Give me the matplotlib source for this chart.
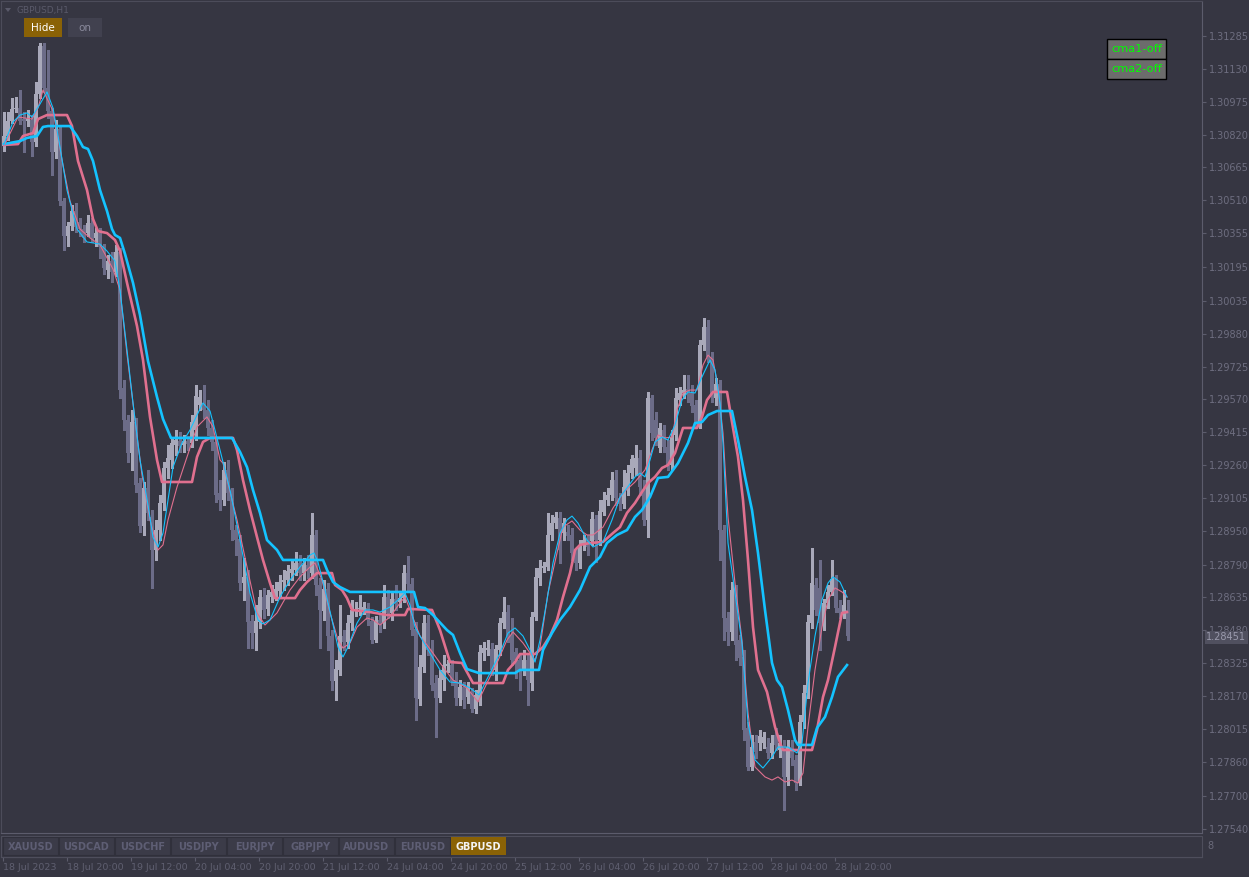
import matplotlib
matplotlib.use('Agg')
import matplotlib.pyplot as plt
from matplotlib.patches import Rectangle, Polygon
from matplotlib.transforms import blended_transform_factory
import numpy as np

# ---------------- data ----------------
symbol_title = "GBPUSD,H1"
opens = [1.30766,1.30813,1.30884,1.30941,1.30945,1.30893,1.30884,1.30889,1.30785,1.31011,
1.31238,1.31040,1.30931,1.30738,1.30846,1.30506,1.30341,1.30388,1.30459,1.30407,
1.30374,1.30355,1.30402,1.30332,1.30355,1.30289,1.30181,1.30223,1.30171,1.30266,
1.29624,1.29473,1.29317,1.29463,1.29175,1.28972,1.29152,1.29015,1.28859,1.28953,
1.29081,1.29246,1.29284,1.29355,1.29373,1.29355,1.29373,1.29364,1.29425,1.29543,
1.29543,1.29520,1.29435,1.29369,1.29128,1.29095,1.29237,1.29128,1.28953,1.28911,
1.28703,1.28732,1.28524,1.28467,1.28519,1.28637,1.28581,1.28637,1.28647,1.28665,
1.28708,1.28717,1.28750,1.28765,1.28798,1.28750,1.28788,1.28750,1.28930,1.28694,
1.28571,1.28675,1.28453,1.28241,1.28293,1.28453,1.28425,1.28514,1.28576,1.28581,
1.28576,1.28585,1.28524,1.28434,1.28529,1.28514,1.28637,1.28562,1.28628,1.28614,
1.28632,1.28750,1.28699,1.28486,1.28156,1.28307,1.28514,1.28387,1.28231,1.28160,
1.28245,1.28311,1.28316,1.28245,1.28160,1.28212,1.28165,1.28184,1.28109,1.28151,
1.28373,1.28387,1.28392,1.28293,1.28387,1.28514,1.28566,1.28453,1.28378,1.28340,
1.28293,1.28340,1.28231,1.28543,1.28727,1.28774,1.28779,1.28930,1.28986,1.29010,
1.28939,1.28944,1.28930,1.28845,1.28798,1.28883,1.28906,1.28901,1.29005,1.28906,
1.29038,1.29095,1.29119,1.29189,1.29104,1.29076,1.29142,1.29222,1.29246,1.29293,
1.29142,1.29001,1.29576,1.29473,1.29340,1.29425,1.29345,1.29260,1.29402,1.29567,
1.29600,1.29619,1.29600,1.29543,1.29458,1.29827,1.29912,1.29770,1.29576,1.29643,
1.28953,1.28538,1.28472,1.28670,1.28434,1.28354,1.28019,1.27835,1.27953,1.27948,
1.27948,1.27929,1.27901,1.27986,1.27915,1.27929,1.27788,1.27929,1.27868,1.27759,
1.28047,1.28184,1.28514,1.28694,1.28680,1.28505,1.28609,1.28661,1.28722,1.28585,
1.28562,1.28576]
highs = [1.30926,1.30926,1.30992,1.30997,1.31030,1.30926,1.30936,1.30912,1.31068,1.31252,
1.31252,1.31219,1.30945,1.30889,1.30865,1.30520,1.30407,1.30487,1.30497,1.30426,
1.30393,1.30440,1.30426,1.30379,1.30379,1.30303,1.30251,1.30266,1.30299,1.30284,
1.29661,1.29496,1.29520,1.29482,1.29199,1.29180,1.29237,1.29048,1.29001,1.29119,
1.29274,1.29355,1.29392,1.29425,1.29416,1.29402,1.29397,1.29496,1.29638,1.29614,
1.29638,1.29567,1.29473,1.29388,1.29189,1.29274,1.29284,1.29152,1.28977,1.28930,
1.28821,1.28765,1.28552,1.28599,1.28670,1.28680,1.28670,1.28694,1.28708,1.28740,
1.28765,1.28788,1.28812,1.28850,1.28835,1.28821,1.28835,1.29034,1.28953,1.28727,
1.28717,1.28703,1.28481,1.28340,1.28599,1.28481,1.28552,1.28623,1.28614,1.28647,
1.28614,1.28609,1.28543,1.28547,1.28552,1.28694,1.28670,1.28656,1.28694,1.28661,
1.28788,1.28831,1.28727,1.28519,1.28363,1.28552,1.28552,1.28434,1.28269,1.28293,
1.28363,1.28340,1.28340,1.28283,1.28245,1.28236,1.28236,1.28208,1.28198,1.28411,
1.28425,1.28434,1.28420,1.28411,1.28538,1.28637,1.28599,1.28538,1.28396,1.28363,
1.28387,1.28363,1.28566,1.28774,1.28812,1.28802,1.29034,1.29024,1.29038,1.29038,
1.29010,1.28977,1.28963,1.28868,1.28906,1.28930,1.28930,1.29038,1.29024,1.29095,
1.29133,1.29152,1.29227,1.29237,1.29128,1.29237,1.29260,1.29307,1.29355,1.29331,
1.29189,1.29605,1.29591,1.29510,1.29458,1.29449,1.29378,1.29425,1.29624,1.29628,
1.29685,1.29685,1.29638,1.29567,1.29850,1.29954,1.29945,1.29793,1.29671,1.29661,
1.28977,1.28566,1.28708,1.28694,1.28458,1.28387,1.28047,1.27986,1.27986,1.28009,
1.28000,1.27972,1.27986,1.28019,1.27986,1.27962,1.27962,1.27962,1.27891,1.28080,
1.28222,1.28552,1.28868,1.28727,1.28812,1.28628,1.28694,1.28812,1.28740,1.28623,
1.28670,1.28623]
lows = [1.30742,1.30794,1.30874,1.30926,1.30870,1.30738,1.30860,1.30719,1.30766,1.30992,
1.31021,1.30898,1.30629,1.30709,1.30487,1.30275,1.30294,1.30369,1.30360,1.30341,
1.30313,1.30341,1.30313,1.30294,1.30237,1.30162,1.30143,1.30124,1.30152,1.29576,
1.29425,1.29274,1.29237,1.29133,1.28944,1.28930,1.29001,1.28680,1.28812,1.28906,
1.29048,1.29199,1.29246,1.29307,1.29322,1.29322,1.29331,1.29345,1.29378,1.29520,
1.29482,1.29402,1.29331,1.29086,1.29048,1.29071,1.29095,1.28906,1.28835,1.28670,
1.28623,1.28396,1.28396,1.28387,1.28491,1.28538,1.28552,1.28614,1.28623,1.28642,
1.28670,1.28694,1.28717,1.28740,1.28717,1.28717,1.28727,1.28727,1.28647,1.28396,
1.28529,1.28387,1.28198,1.28151,1.28269,1.28387,1.28396,1.28481,1.28547,1.28552,
1.28557,1.28505,1.28420,1.28425,1.28472,1.28491,1.28538,1.28529,1.28576,1.28590,
1.28614,1.28670,1.28458,1.28057,1.28127,1.28283,1.28363,1.28198,1.27976,1.28142,
1.28198,1.28283,1.28222,1.28127,1.28127,1.28113,1.28137,1.28094,1.28090,1.28127,
1.28340,1.28363,1.28269,1.28245,1.28363,1.28491,1.28425,1.28316,1.28255,1.28198,
1.28269,1.28127,1.28198,1.28529,1.28694,1.28755,1.28765,1.28906,1.28963,1.28798,
1.28906,1.28906,1.28812,1.28765,1.28774,1.28859,1.28835,1.28883,1.28802,1.28883,
1.29024,1.29071,1.29095,1.29071,1.29048,1.29057,1.29119,1.29199,1.29213,1.29119,
1.28977,1.28920,1.29378,1.29355,1.29322,1.29322,1.29237,1.29237,1.29378,1.29543,
1.29576,1.29558,1.29510,1.29435,1.29435,1.29803,1.29746,1.29558,1.29543,1.28812,
1.28434,1.28411,1.28434,1.28340,1.28316,1.27962,1.27821,1.27821,1.27877,1.27915,
1.27924,1.27877,1.27877,1.27915,1.27882,1.27632,1.27750,1.27844,1.27726,1.27750,
1.28019,1.28160,1.28491,1.28552,1.28387,1.28481,1.28585,1.28647,1.28566,1.28538,
1.28538,1.28434]
closes = [1.30813,1.30884,1.30941,1.30945,1.30884,1.30884,1.30893,1.30785,1.31011,1.31238,
1.31040,1.30931,1.30738,1.30846,1.30506,1.30341,1.30388,1.30459,1.30384,1.30374,
1.30332,1.30402,1.30332,1.30355,1.30289,1.30190,1.30223,1.30171,1.30266,1.29614,
1.29473,1.29317,1.29463,1.29166,1.28972,1.29152,1.29034,1.28859,1.28953,1.29081,
1.29246,1.29293,1.29364,1.29378,1.29350,1.29373,1.29359,1.29463,1.29586,1.29581,
1.29520,1.29435,1.29369,1.29119,1.29095,1.29237,1.29128,1.28953,1.28906,1.28703,
1.28732,1.28519,1.28467,1.28524,1.28637,1.28576,1.28647,1.28661,1.28675,1.28708,
1.28717,1.28760,1.28769,1.28798,1.28750,1.28788,1.28765,1.28930,1.28694,1.28576,
1.28675,1.28453,1.28241,1.28297,1.28453,1.28425,1.28514,1.28576,1.28581,1.28585,
1.28590,1.28529,1.28434,1.28524,1.28505,1.28637,1.28562,1.28628,1.28609,1.28632,
1.28750,1.28699,1.28481,1.28160,1.28307,1.28514,1.28387,1.28222,1.28160,1.28255,
1.28316,1.28321,1.28241,1.28160,1.28212,1.28151,1.28208,1.28109,1.28175,1.28378,
1.28396,1.28396,1.28293,1.28392,1.28514,1.28566,1.28453,1.28340,1.28340,1.28293,
1.28340,1.28245,1.28543,1.28732,1.28774,1.28783,1.28930,1.28986,1.29015,1.28859,
1.28986,1.28925,1.28845,1.28798,1.28883,1.28906,1.28873,1.29005,1.28906,1.29043,
1.29095,1.29119,1.29189,1.29104,1.29076,1.29156,1.29222,1.29289,1.29293,1.29156,
1.29001,1.29576,1.29411,1.29388,1.29435,1.29345,1.29260,1.29392,1.29576,1.29600,
1.29614,1.29595,1.29539,1.29458,1.29827,1.29912,1.29770,1.29581,1.29643,1.28953,
1.28538,1.28472,1.28670,1.28411,1.28349,1.28009,1.27835,1.27929,1.27906,1.27981,
1.27976,1.27901,1.27948,1.27939,1.27948,1.27788,1.27929,1.27877,1.27759,1.28047,
1.28184,1.28519,1.28703,1.28576,1.28514,1.28609,1.28661,1.28722,1.28585,1.28562,
1.28599,1.28451]

# indicator lines: (bar index, price)
fast_blue = [(0,1.30775),(2.25,1.30879),(4,1.30912),(5.75,1.30922),(7,1.30903),(9,1.30964),(10.75,1.31021),
(12.25,1.30945),(14,1.30761),(15.75,1.30558),(18.25,1.30374),(20.75,1.30313),(24,1.30303),(25.75,1.30270),
(27.75,1.30223),(29,1.30086),(30.75,1.29803),(32.25,1.29553),(34,1.29284),(36,1.29071),(37.25,1.28920),
(38.5,1.28873),(39.75,1.28939),(41,1.29095),(42.25,1.29250),(44.5,1.29364),(46.5,1.29425),(48.25,1.29496),
(49.75,1.29553),(51.5,1.29515),(52.75,1.29425),(54,1.29331),(56.5,1.29142),(59,1.28906),(61.5,1.28656),
(63.5,1.28529),(64.75,1.28510),(66.5,1.28529),(69,1.28637),(71.5,1.28717),(74,1.28779),(76.5,1.28835),
(77.5,1.28845),(78.5,1.28802),(80.25,1.28670),(82,1.28529),(83.5,1.28401),(84.75,1.28354),(86,1.28401),
(88.25,1.28514),(90.25,1.28576),(92.25,1.28576),(94,1.28566),(96.5,1.28590),(98.5,1.28623),(100.25,1.28656),
(101.5,1.28599),(102.75,1.28495),(104,1.28453),(106.5,1.28373),(109,1.28293),(111.5,1.28236),(114,1.28231),
(116.5,1.28208),(118.75,1.28175),(121.5,1.28278),(124,1.28373),(126,1.28467),(127.75,1.28491),(129.75,1.28453),
(131.5,1.28387),(132.75,1.28330),(134,1.28434),(135.75,1.28623),(137.25,1.28798),(139,1.28939),(140.75,1.29001),
(142,1.29019),(143.5,1.28986),(145.75,1.28906),(147.25,1.28873),(149.75,1.28897),(152,1.29001),(154,1.29109),
(155.75,1.29152),(157.75,1.29204),(159,1.29222),(160.25,1.29204),(161.5,1.29284),(162.75,1.29369),(164.5,1.29392),
(166,1.29378),(167.75,1.29449),(169.5,1.29567),(171,1.29605),(172.75,1.29600),(174.5,1.29676),(176.5,1.29756),
(177.75,1.29709),(179,1.29553),(179.75,1.29364),(181,1.28892),(182.75,1.28656),(184.5,1.28420),(186,1.28042),
(187.75,1.27868),(189.75,1.27830),(192,1.27882),(193.5,1.27929),(196,1.27929),(198.25,1.27901),(199.5,1.27948),
(201,1.28231),(202.75,1.28453),(204.5,1.28623),(206,1.28703),(207.25,1.28732),(209,1.28708),(210.75,1.28637)]

fast_pink = [(0,1.30766),(3.5,1.30903),(7,1.30893),(8.5,1.30945),(9.75,1.31030),(12.25,1.30931),(14.75,1.30676),
(16.5,1.30506),(19,1.30374),(21.5,1.30332),(24,1.30299),(27.25,1.30185),(29,1.30086),(30.75,1.29784),
(32.75,1.29473),(34.5,1.29213),(36.5,1.29001),(38.5,1.28859),(39.75,1.28883),(41,1.29001),(43.25,1.29156),
(45.75,1.29298),(48.25,1.29440),(50.75,1.29487),(52.25,1.29440),(54,1.29284),(54.75,1.29269),(58.25,1.29001),
(60.75,1.28779),(63.25,1.28562),(65.25,1.28505),(68.25,1.28562),(71.5,1.28670),(74,1.28732),(76.5,1.28779),
(77.75,1.28798),(79.5,1.28717),(81.5,1.28562),(83.5,1.28434),(84.75,1.28396),(86.5,1.28420),(88.25,1.28495),
(90.75,1.28538),(92.25,1.28529),(94,1.28505),(96.5,1.28543),(99,1.28609),(100.25,1.28637),(101.5,1.28576),
(104,1.28453),(106.5,1.28392),(109,1.28326),(112.25,1.28245),(115.75,1.28208),(118.5,1.28142),(120.75,1.28231),
(123.25,1.28326),(125.75,1.28434),(127.25,1.28472),(129.75,1.28420),(131.5,1.28373),(132.75,1.28340),(134,1.28401),
(136,1.28656),(138.25,1.28845),(139.75,1.28967),(142,1.28996),(144,1.28953),(145.75,1.28930),(147.25,1.28930),
(149.75,1.28967),(152.25,1.29057),(154.75,1.29128),(157.75,1.29180),(160.25,1.29237),(162,1.29331),(163.5,1.29402),
(165.25,1.29388),(167,1.29392),(168.25,1.29520),(169.75,1.29600),(171.5,1.29614),(173.25,1.29614),(174.75,1.29732),
(176,1.29779),(177.25,1.29756),(178.5,1.29628),(179.75,1.29411),(181,1.29015),(182.75,1.28703),(184.5,1.28434),
(186,1.28090),(187.75,1.27835),(190.25,1.27788),(192,1.27773),(193.5,1.27788),(195.25,1.27764),(197,1.27773),
(198.5,1.27759),(199.75,1.27806),(201,1.28024),(202.75,1.28293),(204.5,1.28495),(206,1.28623),(207.75,1.28680),
(209.5,1.28661),(210.75,1.28637)]

slow_pink = [(0,1.30771),(3.5,1.30775),(4.75,1.30813),(7.25,1.30827),(8.5,1.30893),(10.75,1.30912),(15.75,1.30912),
(17,1.30860),(18.5,1.30695),(20.75,1.30558),(22.25,1.30421),(23.5,1.30364),(25.75,1.30355),(27.75,1.30322),
(29,1.30270),(30.75,1.30120),(33.25,1.29916),(34.75,1.29756),(36.5,1.29487),(38.25,1.29284),(39.5,1.29180),
(47,1.29180),(48.25,1.29298),(49.75,1.29369),(51.5,1.29388),(57.25,1.29388),(58.25,1.29331),(59.75,1.29189),
(61.5,1.29048),(63.25,1.28920),(64.75,1.28812),(66.5,1.28703),(67.75,1.28632),(72.75,1.28632),(74,1.28670),
(75.75,1.28708),(78.25,1.28750),(82,1.28750),(82.75,1.28694),(84.5,1.28670),(85.75,1.28632),(87,1.28576),
(91.5,1.28566),(95.75,1.28552),(100.25,1.28552),(101,1.28581),(107,1.28576),(109,1.28481),(111.5,1.28330),
(114.5,1.28326),(117.25,1.28231),(124.75,1.28231),(126,1.28293),(127.75,1.28330),(129,1.28368),(132.75,1.28368),
(134.75,1.28401),(136.5,1.28453),(138.25,1.28529),(139.75,1.28637),(141.5,1.28750),(142.75,1.28859),(144,1.28883),
(146.5,1.28892),(149.75,1.28897),(152.25,1.28939),(154,1.28967),(155.75,1.29034),(157.75,1.29081),(159.5,1.29133),
(161,1.29175),(162.75,1.29204),(164.5,1.29246),(166,1.29260),(167.75,1.29317),(169.75,1.29435),(173.25,1.29435),
(174.5,1.29487),(175.75,1.29567),(177.25,1.29605),(180.75,1.29605),(182,1.29463),(183.5,1.29298),(184.75,1.29095),
(186,1.28812),(187.25,1.28495),(188.5,1.28293),(190.75,1.28189),(192.75,1.28024),(194,1.27948),(194.75,1.27915),
(202,1.27915),(203.25,1.28009),(204.75,1.28165),(206,1.28245),(207.75,1.28401),(209.5,1.28562),(210.75,1.28566)]

slow_blue = [(0,1.30775),(4,1.30789),(5.75,1.30804),(8.25,1.30813),(9.75,1.30856),(11,1.30860),(16.5,1.30860),
(18.25,1.30813),(19.75,1.30761),(21,1.30752),(22.25,1.30695),(24,1.30558),(25.75,1.30459),(27,1.30374),
(27.75,1.30346),(29,1.30332),(30.25,1.30256),(32.25,1.30120),(34,1.29968),(36,1.29751),(38.25,1.29581),
(39.75,1.29477),(41.75,1.29388),(57,1.29388),(59,1.29322),(60.75,1.29250),(62.25,1.29142),(64,1.29034),
(65.75,1.28906),(68.25,1.28859),(69.75,1.28812),(79.75,1.28812),(80.75,1.28765),(82.25,1.28708),(84,1.28684),
(86.5,1.28661),(102.5,1.28661),(103.5,1.28590),(105.25,1.28585),(107.25,1.28552),(110.75,1.28481),(112.25,1.28458),
(114,1.28373),(115.75,1.28297),(118.75,1.28278),(127.75,1.28278),(129,1.28293),(133.75,1.28293),(134.75,1.28387),
(137,1.28467),(139,1.28529),(141.5,1.28590),(144,1.28670),(146.5,1.28779),(149,1.28826),(150.75,1.28892),
(153.25,1.28930),(155.75,1.28953),(157.75,1.29015),(159.5,1.29048),(161.5,1.29109),(163.5,1.29199),(166,1.29204),
(168.5,1.29269),(171,1.29364),(172.75,1.29458),(174.5,1.29463),(176,1.29496),(178.25,1.29515),(182,1.29515),
(183.5,1.29378),(185.25,1.29204),(187,1.29048),(188.5,1.28845),(190.25,1.28576),(192,1.28326),(193.25,1.28245),
(194.5,1.28212),(196,1.28104),(197.75,1.27962),(198.5,1.27939),(202,1.27939),(203.25,1.28019),(205.25,1.28071),
(207,1.28165),(208.5,1.28260),(210.75,1.28316)]

price_ticks = [1.31285,1.31130,1.30975,1.30820,1.30665,1.30510,1.30355,1.30195,1.30035,1.29880,
1.29725,1.29570,1.29415,1.29260,1.29105,1.28950,1.28790,1.28635,1.28480,1.28325,
1.28170,1.28015,1.27860,1.27700,1.27540]
time_tick_bars = [0,16,32,48,64,80,96,112,128,144,160,176,192,208]
time_tick_labels = ["18 Jul 2023","18 Jul 20:00","19 Jul 12:00","20 Jul 04:00","20 Jul 20:00",
"21 Jul 12:00","24 Jul 04:00","24 Jul 20:00","25 Jul 12:00","26 Jul 04:00",
"26 Jul 20:00","27 Jul 12:00","28 Jul 04:00","28 Jul 20:00"]
symbols = ["XAUUSD","USDCAD","USDCHF","USDJPY","EURJPY","GBPJPY","AUDUSD","EURUSD","GBPUSD"]
active_symbol = "GBPUSD"
cma_buttons = ["cma1-off","cma2-off"]

# ---------------- style ----------------
W, H = 1249, 877
BG = '#363642'
BULL = '#a9a9ba'
BEAR = '#6c6c88'
BLUE = '#14c3ff'
PINK = '#e0708f'
AXC = '#5c5c6c'
TXT = '#6e6e80'
GOLD = '#8a6206'

fig = plt.figure(figsize=(W/100, H/100), dpi=100, facecolor=BG)

# main price axes: pixel x 1..1202, pixel y 1..833
ax = fig.add_axes([1/W, (H-833)/H, 1201/W, 832/H])
ax.set_facecolor(BG)
ax.set_xlim(-0.75, 299.5)
ax.set_ylim(1.275232, 1.314503)

o = np.array(opens); h = np.array(highs); l = np.array(lows); c = np.array(closes)
idx = np.arange(len(c))
bull = c >= o
cols = np.where(bull, BULL, BEAR)
ax.vlines(idx, l, h, colors=cols, linewidth=0.75, zorder=2, antialiased=False)
body_lo = np.minimum(o, c)
body_h = np.maximum(np.abs(c - o), 0.00005)
ax.bar(idx, body_h, bottom=body_lo, width=0.78, color=cols, linewidth=0, zorder=3,
       antialiased=False)

def draw(line, color, lw, z):
    xs = [p[0] for p in line]; ys = [p[1] for p in line]
    ax.plot(xs, ys, color=color, lw=lw, zorder=z, solid_joinstyle='round')

draw(slow_pink, PINK, 1.9, 4)
draw(slow_blue, BLUE, 1.9, 5)
draw(fast_pink, PINK, 0.8, 6)
draw(fast_blue, BLUE, 0.8, 7)

ax.yaxis.tick_right()
ax.set_yticks(price_ticks)
ax.set_yticklabels([f"{p:.5f}" for p in price_ticks])
ax.tick_params(axis='y', length=3, width=0.8, color=AXC, labelcolor=TXT, labelsize=7, pad=2)
ax.set_xticks([])
for s in ['left', 'top']:
    ax.spines[s].set_color('#4c4c5a'); ax.spines[s].set_linewidth(0.8)
for s in ['right', 'bottom']:
    ax.spines[s].set_color(AXC); ax.spines[s].set_linewidth(0.8)

# current price label (covers the lower half of the neighbouring tick label, as in MT4)
tr = blended_transform_factory(ax.transAxes, ax.transData)
ax.text(1.0035, closes[-1] - 0.00004, f"{closes[-1]:.5f}", transform=tr, ha='left', va='center',
        fontsize=7, color='#9a9aac',
        bbox=dict(boxstyle='square,pad=0.15', fc='#50505f', ec='none'), zorder=10)

# time axis line under the tabs
axt = fig.add_axes([1/W, (H-857)/H, 1201/W, 0.001])
axt.set_facecolor('none')
axt.set_xlim(-0.75, 299.5)
axt.set_yticks([])
for s in ['left', 'top', 'right']:
    axt.spines[s].set_visible(False)
axt.spines['bottom'].set_color(AXC); axt.spines['bottom'].set_linewidth(0.8)
axt.set_xticks([b - 0.3 for b in time_tick_bars])
axt.set_xticklabels(time_tick_labels, ha='left')
axt.tick_params(axis='x', length=3, width=0.8, color=AXC, labelcolor='#5f5f70', labelsize=6.8, pad=1.5)

# UI overlay in pixel coordinates
ui = fig.add_axes([0, 0, 1, 1])
ui.set_xlim(0, W); ui.set_ylim(H, 0); ui.axis('off'); ui.patch.set_alpha(0)

# title
ui.add_patch(Polygon([[5, 8], [11, 8], [8, 12]], closed=True, fc='#5a5a6a', ec='none'))
ui.text(17, 10, symbol_title, fontsize=6.5, color='#5a5a6a', va='center', ha='left')

# Hide / on buttons
ui.add_patch(Rectangle((24, 18), 38, 19, fc=GOLD, ec='none'))
ui.text(43, 28, "Hide", fontsize=7.5, color='white', ha='center', va='center')
ui.add_patch(Rectangle((68, 18), 34, 19, fc='#41414f', ec='none'))
ui.text(85, 28, "on", fontsize=7.5, color='#8a8a9c', ha='center', va='center')

# cma buttons
for k, lab in enumerate(cma_buttons):
    y0 = 39 + 20 * k
    ui.add_patch(Rectangle((1107, y0), 59, 20, fc='#6c6c6c', ec='black', lw=1.0))
    ui.text(1136.5, y0 + 10.5, lab, fontsize=8.2, color='#00ff00', ha='center', va='center')

# symbol tabs panel
ui.add_patch(Rectangle((1, 835.5), 1201, 21, fc=BG, ec='#4e4e5c', lw=0.8))
for k, s in enumerate(symbols):
    x0 = 3 + 56 * k
    active = (s == active_symbol)
    ui.add_patch(Rectangle((x0, 837), 55, 18, fc=GOLD if active else '#3b3b48',
                           ec='none' if active else '#30303b', lw=0.8))
    ui.text(x0 + 27.5, 846.5, s, fontsize=7, fontweight='bold',
            color='#f4f4f4' if active else '#5e5e74', ha='center', va='center')

ui.text(1207, 846, "8", fontsize=7, color='#6a6a7a', ha='left', va='center')

fig.savefig('out.png', dpi=100, facecolor=BG)
